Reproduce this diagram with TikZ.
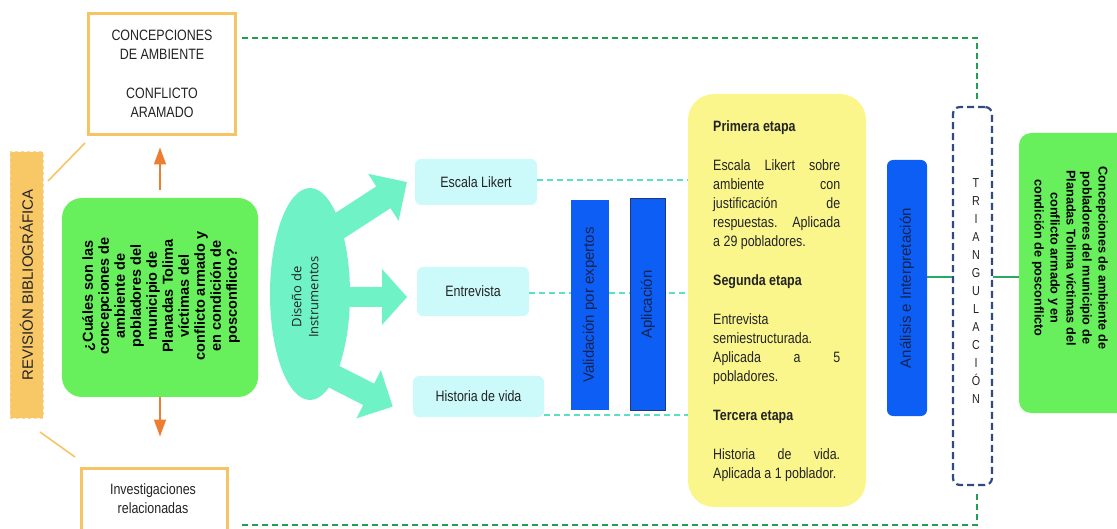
\documentclass[tikz,border=0pt]{standalone}
\usepackage{fontspec}
\setmainfont{Liberation Sans}
\newfontfamily\cond[FakeStretch=0.83]{Liberation Sans}
\newfontfamily\osans{Open Sans}
\usetikzlibrary{arrows.meta,shapes.geometric}
\definecolor{orB}{RGB}{247,196,100}
\definecolor{revF}{RGB}{248,199,102}
\definecolor{revD}{RGB}{252,218,150}
\definecolor{orA}{RGB}{237,125,49}
\definecolor{qG}{RGB}{104,240,92}
\definecolor{tealF}{RGB}{110,242,198}
\definecolor{cyF}{RGB}{204,250,250}
\definecolor{cyD}{RGB}{90,225,195}
\definecolor{blB}{RGB}{12,94,245}
\definecolor{blT}{RGB}{20,35,80}
\definecolor{blK}{RGB}{30,55,120}
\definecolor{yeF}{RGB}{250,246,140}
\definecolor{trD}{RGB}{46,74,128}
\definecolor{gDash}{RGB}{30,160,80}
\definecolor{gLine}{RGB}{40,170,100}
\definecolor{txt}{RGB}{35,35,35}
\newcommand{\jline}[1]{\makebox[127pt][l]{#1}}
\begin{document}
\begin{tikzpicture}[x=1pt,y=-1pt,
  obox/.style={draw=orB, line width=3pt, fill=white, inner sep=0pt},
  revbox/.style={fill=revF, draw=revD, dashed, line width=1pt, inner sep=0pt},
  qbox/.style={fill=qG, rounded corners=20pt, inner sep=0pt},
  cbox/.style={fill=cyF, rounded corners=6pt, inner sep=0pt, text=txt, font=\cond\fontsize{15}{18}\selectfont},
  bbar/.style={fill=blB, inner sep=0pt, text=blT, font=\fontsize{15}{18}\selectfont},
  ybox/.style={fill=yeF, rounded corners=26pt, inner sep=0pt},
  tbox/.style={draw=trD, dashed, dash pattern=on 7pt off 4pt, line width=2.2pt, rounded corners=7pt, inner sep=0pt},
  gbox/.style={fill=qG, rounded corners=12pt, inner sep=0pt},
  oline/.style={draw=orB, line width=1.6pt},
  oarrow/.style={draw=orA, line width=1.5pt, -{Triangle[length=17pt,width=12pt]}},
  gdash/.style={draw=gDash, line width=2.2pt, dash pattern=on 6pt off 4pt},
  cdash/.style={draw=cyD, line width=1.8pt, dash pattern=on 6pt off 4pt},
  gline/.style={draw=gLine, line width=2.2pt},
  htext/.style={text=txt, font=\cond\fontsize{15}{19}\selectfont, align=center, inner sep=0pt},
]
\clip (0,0) rectangle (1117,529);
\useasboundingbox (0,0) rectangle (1117,529);

% left column
\node[obox, minimum width=147pt, minimum height=121pt] (conc) at (161.5,74.5) {};
\node[htext] (conctxt) at (162,74) {CONCEPCIONES\\DE AMBIENTE\\[20pt]CONFLICTO\\ARAMADO};
\node[revbox, minimum width=33pt, minimum height=266pt] (rev) at (26.5,285) {};
\node[rotate=90, text=txt, font=\fontsize{15}{18}\selectfont, inner sep=0pt] (revtxt) at (rev.center) {REVISIÓN BIBLIOGRÁFICA};
\node[qbox, minimum width=196pt, minimum height=199pt] (q) at (160,297.5) {};
\node[rotate=90, align=center, text=black, font=\fontsize{14.5}{16}\selectfont\bfseries, inner sep=0pt] (qtxt) at (161,296)
 {¿Cuáles son las\\concepciones de\\ambiente de\\pobladores del\\municipio de\\Planadas Tolima\\víctimas del\\conflicto armado y\\en condición de\\posconflicto?};
\node[obox, minimum width=146pt, minimum height=72pt] (inv) at (154,504) {};
\node[htext] (invtxt) at (153,499) {Investigaciones\\relacionadas};

\coordinate (r1) at (48,181);
\coordinate (r2) at (85,143);
\coordinate (r3) at (40,432);
\coordinate (r4) at (75,457);
\draw[oline] (r1) -- (r2);
\draw[oline] (r3) -- (r4);
\draw[oarrow] ([yshift=8pt]q.north) -- ([yshift=-11pt]q.north |- conc.south);
\draw[oarrow] (q.south) -- ([yshift=30pt]q.south |- inv.north);

% green dashed frame
\node[tbox, minimum width=39pt, minimum height=378pt] (tri) at (972.5,296) {};
\node[align=center, text=txt, font=\cond\fontsize{13}{18}\selectfont, inner sep=0pt] (tritxt) at (976,291)
 {T\\R\\I\\A\\N\\G\\U\\L\\A\\C\\I\\Ó\\N};
\coordinate (g1) at (242,38);
\coordinate (g2) at (242,525);
\draw[gdash] (g1) -| ([xshift=4.5pt,yshift=5pt]tri.north);
\draw[gdash] (g2) -| ([xshift=4.5pt,yshift=-5pt]tri.south);

% Diseño de instrumentos
\begin{scope}[shift={(323,236.5)}, rotate=33]
 \fill[tealF] (0,-13) -- (72,-13) -- (72,-28) -- (100,0) -- (72,28) -- (72,13) -- (0,13) -- cycle;
\end{scope}
\begin{scope}[shift={(337,297)}]
 \fill[tealF] (0,-10) -- (45,-10) -- (45,-28) -- (70,0) -- (45,28) -- (45,10) -- (0,10) -- cycle;
\end{scope}
\begin{scope}[shift={(317,368)}, rotate=-27]
 \fill[tealF] (0,-12) -- (58,-12) -- (58,-27) -- (85,0) -- (58,27) -- (58,12) -- (0,12) -- cycle;
\end{scope}
\node[ellipse, fill=tealF, minimum width=80pt, minimum height=212pt, inner sep=0pt] (dis) at (310,294) {};
\node[rotate=90, align=center, text=txt, font=\osans\fontsize{13}{17}\selectfont, inner sep=0pt] (distxt) at (305,297) {Diseño de\\Instrumentos};

% instruments
\node[ybox, minimum width=178pt, minimum height=413pt] (yel) at (777,300.5) {};
\node[cbox, minimum width=122pt, minimum height=46pt] (lik) at (476,182) {Escala Likert};
\node[cbox, minimum width=112pt, minimum height=49pt] (ent) at (473,291.5) {Entrevista};
\node[cbox, minimum width=131pt, minimum height=41pt] (his) at (478.5,396.5) {Historia de vida};
\draw[cdash] ([yshift=2pt]lik.east) -- ([yshift=2pt]lik.east -| yel.west);
\draw[cdash] ([yshift=-1.5pt]ent.east) -- ([yshift=-1.5pt]ent.east -| yel.west);
\draw[cdash] ([yshift=2.5pt]his.south east) -- ([yshift=2.5pt]his.south east -| yel.west);

\node[bbar, rotate=90, minimum width=210pt, minimum height=38pt] (val) at (590,305) {Validación por expertos};
\node[bbar, draw=blK, line width=1pt, rotate=90, minimum width=211pt, minimum height=35pt] (apl) at (648,304.5) {Aplicación};

\node[anchor=north west, align=left, text=txt, font=\cond\fontsize{15}{19}\selectfont, inner sep=0pt] (ytxt) at (713,120)
 {\textbf{Primera etapa}\\[20pt]
  \jline{Escala\hfill Likert\hfill sobre}\\
  \jline{ambiente\hfill con}\\
  \jline{justificación\hfill de}\\
  \jline{respuestas.\hfill Aplicada}\\
  a 29 pobladores.\\[20pt]
  \textbf{Segunda etapa}\\[20pt]
  Entrevista\\
  semiestructurada.\\
  \jline{Aplicada\hfill a\hfill 5}\\
  pobladores.\\[20pt]
  \textbf{Tercera etapa}\\[20pt]
  \jline{Historia\hfill de\hfill vida.}\\
  Aplicada a 1 poblador.};

% analysis and result
\node[bbar, rounded corners=6pt, rotate=90, minimum width=256pt, minimum height=40pt] (ana) at (907,288) {Análisis e Interpretación};
\node[gbox, minimum width=110pt, minimum height=280pt] (res) at (1074,273) {};
\node[rotate=-90, align=center, text=black, font=\fontsize{12.7}{16}\selectfont\bfseries, inner sep=0pt] (restxt) at (1070,258)
 {Concepciones de ambiente de\\pobladores del municipio de\\Planadas Tolima víctimas del\\conflicto armado y en\\condición de posconflicto};
\coordinate (lv) at (0,277);
\draw[gline] (ana.south |- lv) -- (tri.west |- lv);
\draw[gline] (tri.east |- lv) -- (res.west |- lv);
\end{tikzpicture}
\end{document}
